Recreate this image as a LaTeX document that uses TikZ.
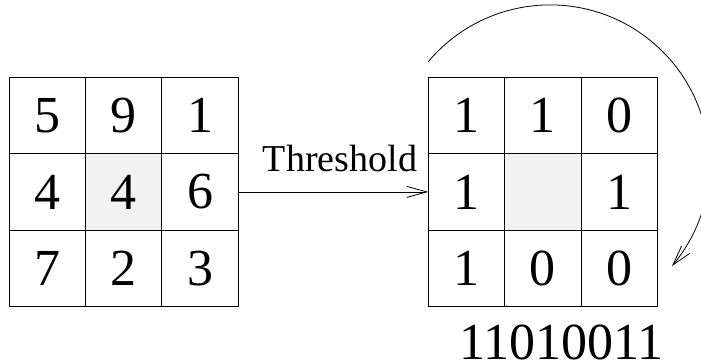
\documentclass[tikz,border=0pt]{standalone}
\usepackage{fontspec}
\setmainfont{Liberation Serif}
\newfontfamily\timesfont{Liberation Serif}
\usetikzlibrary{arrows.meta}
\begin{document}
\begin{tikzpicture}[x=1pt,y=1pt,
  cell/.style={draw=black, line width=0.9pt, minimum size=76.4pt, inner sep=0pt, outer sep=0pt, font=\timesfont\fontsize{52}{52}\selectfont},
  midcell/.style={fill=black!5},
  barb/.style={line width=0.8pt, -{Straight Barb[length=20pt,width=11pt,line width=0.8pt]}},
  bigtext/.style={font=\timesfont\fontsize{52}{52}\selectfont, inner sep=0pt, anchor=base},
  labeltext/.style={font=\timesfont\fontsize{38}{38}\selectfont, inner sep=0pt, anchor=base}]
\useasboundingbox (0,0) rectangle (701,-362);
% left grid
\node[cell] (L11) at (47.2,-115.5) {5};
\node[cell] (L12) at (123.6,-115.5) {9};
\node[cell] (L13) at (200.0,-115.5) {1};
\node[cell] (L21) at (47.2,-191.9) {4};
\node[cell,midcell] (L22) at (123.6,-191.9) {4};
\node[cell] (L23) at (200.0,-191.9) {6};
\node[cell] (L31) at (47.2,-268.3) {7};
\node[cell] (L32) at (123.6,-268.3) {2};
\node[cell] (L33) at (200.0,-268.3) {3};
% right grid
\node[cell] (R11) at (466.5,-115.5) {1};
\node[cell] (R12) at (542.9,-115.5) {1};
\node[cell] (R13) at (619.3,-115.5) {0};
\node[cell] (R21) at (466.5,-191.9) {1};
\node[cell,midcell] (R22) at (542.9,-191.9) {};
\node[cell] (R23) at (619.3,-191.9) {1};
\node[cell] (R31) at (466.5,-268.3) {1};
\node[cell] (R32) at (542.9,-268.3) {0};
\node[cell] (R33) at (619.3,-268.3) {0};
% labels
\node[labeltext] (thr) at (340,-171.7) {Threshold};
\node[bigtext] (code) at (561.5,-359.5) {11010011};
% connectors
\draw[barb] (L23.east) -- (R21.west);
\coordinate (arcstart) at (428.3,-61.7);
\draw[barb] (arcstart) arc[start angle=140, end angle=-40, radius=159pt];
\end{tikzpicture}
\end{document}
